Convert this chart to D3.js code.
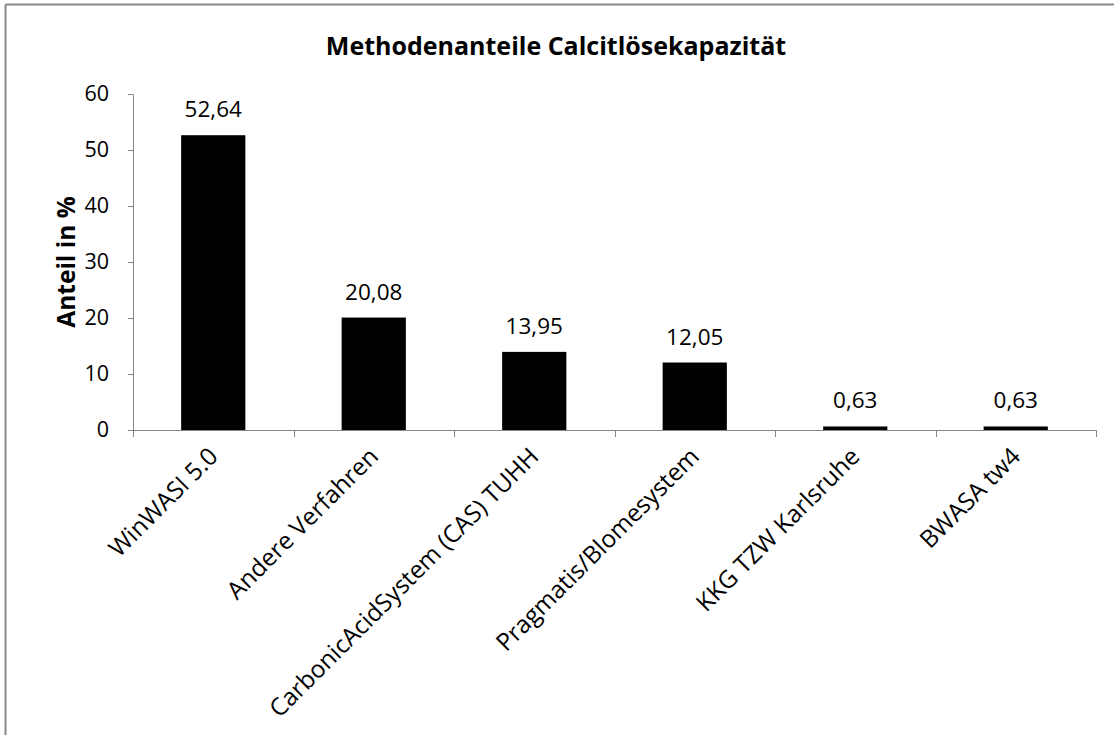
<!DOCTYPE html>
<html>
<head>
<meta charset="utf-8">
<script src="https://cdn.jsdelivr.net/npm/d3@7"></script>
<style>
html,body{margin:0;padding:0;background:#fff;}
svg{display:block;}
</style>
</head>
<body>
<svg id="chart" width="1114" height="735"></svg>
<script>
const categories = ["WinWASI 5.0","Andere Verfahren","CarbonicAcidSystem (CAS) TUHH","Pragmatis/Blomesystem","KKG TZW Karlsruhe","BWASA tw4"];
const values = [52.64, 20.08, 13.95, 12.05, 0.63, 0.63];
const labels = ["52,64","20,08","13,95","12,05","0,63","0,63"];
const yTicks = [0,10,20,30,40,50,60];
const title = "Methodenanteile Calcitlösekapazität";
const yTitle = "Anteil in %";

const font = "'Open Sans', Lato, sans-serif";
const svg = d3.select("#chart");
const axisColor = "#868686";

// frame
svg.append("line").attr("x1",5.5).attr("x2",1114).attr("y1",4.5).attr("y2",4.5).attr("stroke","#888").attr("stroke-width",2);
svg.append("line").attr("x1",5.5).attr("x2",5.5).attr("y1",4.5).attr("y2",735).attr("stroke","#888").attr("stroke-width",2);

const x = d3.scaleBand().domain(categories).range([133,1096]).paddingInner(0.6).paddingOuter(0.3);
const y = d3.scaleLinear().domain([0,60]).range([430,94]);

// bars
svg.append("g").selectAll("rect").data(values).join("rect")
  .attr("x",(d,i)=>x(categories[i]))
  .attr("width",x.bandwidth())
  .attr("y",d=>y(d))
  .attr("height",d=>y(0)-y(d))
  .attr("fill","#000");

// y axis
const yAxis = svg.append("g").attr("transform","translate(133,0)")
  .call(d3.axisLeft(y).tickValues(yTicks).tickSize(5).tickPadding(19).tickFormat(d3.format("d")));
yAxis.select(".domain").attr("stroke",axisColor).attr("d","M-5,94.5H0.5V430.5");
yAxis.selectAll(".tick line").attr("stroke",axisColor);
yAxis.selectAll(".tick text").attr("font-family",font).attr("font-size",21.5).attr("fill","#000");

// x axis
const xEdges = d3.range(categories.length+1).map(i=>133 + i*(1096-133)/categories.length);
const xAxis = svg.append("g");
xAxis.append("line").attr("x1",133).attr("x2",1096).attr("y1",430.5).attr("y2",430.5).attr("stroke",axisColor);
xAxis.selectAll("line.tk").data(xEdges).join("line").attr("class","tk")
  .attr("x1",d=>Math.round(d)+0.5).attr("x2",d=>Math.round(d)+0.5).attr("y1",430).attr("y2",437).attr("stroke",axisColor);

// category labels
svg.append("g").selectAll("text").data(categories).join("text")
  .attr("transform",d=>`translate(${x(d)+x.bandwidth()/2+6},${458}) rotate(-45)`)
  .attr("text-anchor","end")
  .attr("font-family",font).attr("font-size",24.3).attr("fill","#000")
  .text(d=>d);

// value labels
svg.append("g").selectAll("text").data(values).join("text")
  .attr("x",(d,i)=>x(categories[i])+x.bandwidth()/2)
  .attr("y",d=>y(d)-18)
  .attr("text-anchor","middle")
  .attr("font-family",font).attr("font-size",22.5).attr("fill","#000")
  .text((d,i)=>labels[i]);

// title
svg.append("text").attr("x",556).attr("y",55).attr("text-anchor","middle")
  .attr("font-family",font).attr("font-weight","bold").attr("font-size",25).attr("fill","#000")
  .text(title);

// y title
svg.append("text").attr("transform","translate(75,262) rotate(-90)").attr("text-anchor","middle")
  .attr("font-family",font).attr("font-weight","bold").attr("font-size",24.5).attr("fill","#000")
  .text(yTitle);
</script>
</body>
</html>
